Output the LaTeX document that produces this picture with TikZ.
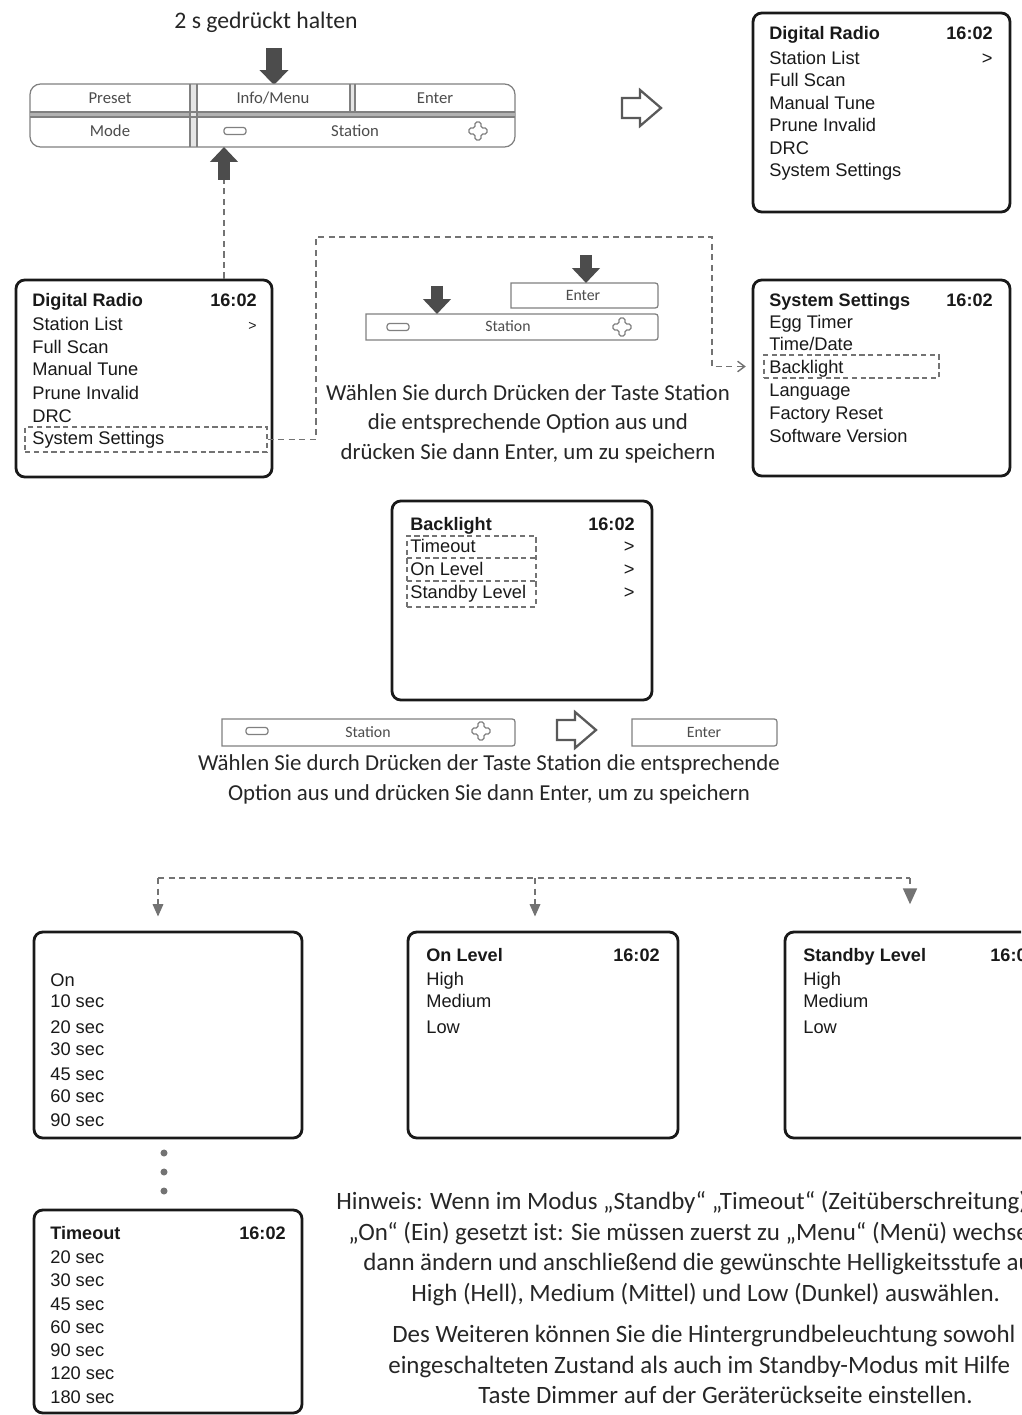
\documentclass[tikz,border=0pt]{standalone}
\usepackage{fontspec}
\setmainfont{Carlito}
\newfontfamily\menufont{Liberation Sans}
\usetikzlibrary{arrows.meta,fit}

\newcommand{\keyshape}[4]{\draw[key] (#1,#2) -- ({#3-6},#2) .. controls (#3,#2) .. (#3,{#2+6}) -- (#3,{#4-6}) .. controls (#3,#4) .. ({#3-6},#4) -- (#1,#4) -- cycle;}

\tikzset{
  screen/.style={draw=black!90, line width=1.6pt, rounded corners=5pt, inner sep=0pt},
  hl/.style={draw=black!55, line width=0.7pt, dash pattern=on 3pt off 2pt, inner sep=0pt},
  item/.style={anchor=base west, inner sep=0pt, text=black!90, font=\menufont\fontsize{10.4}{12}\selectfont},
  ttl/.style={item, font=\menufont\bfseries\fontsize{10.3}{12}\selectfont},
  clock/.style={ttl, anchor=base east},
  more/.style={item, anchor=base east},
  key/.style={draw=black!50, line width=0.7pt},
  keytext/.style={anchor=base, inner sep=0pt, text=black!70, font=\fontsize{9.5}{11}\selectfont},
  info/.style={anchor=base, inner sep=0pt, text=black!85, font=\fontsize{13}{15}\selectfont},
  note/.style={info, anchor=base west, font=\fontsize{14.2}{16}\selectfont},
  push/.style={draw=black!70, line width=6.8pt, -{Triangle[width=15.5pt,length=8.5pt]}},
  link/.style={draw=black!55, line width=0.8pt, dash pattern=on 3.5pt off 2.5pt},
  drop/.style={link, -{Triangle[width=6pt,length=7pt]}},
  minusicon/.pic={\draw[key, rounded corners=1.5pt] (-11,-3.5) rectangle (11,3.5);},
  plusicon/.pic={\draw[key, rounded corners=1pt] (-3,-9) -- (3,-9) -- (3,-3) -- (9,-3) -- (9,3) -- (3,3) -- (3,9) -- (-3,9) -- (-3,3) -- (-9,3) -- (-9,-3) -- (-3,-3) -- cycle;},
  nextarrow/.pic={\draw[draw=black!65, fill=white, line width=1.3pt, line join=miter] (-19,-10) -- (-1,-10) -- (-1,-18) -- (20,0) -- (-1,18) -- (-1,10) -- (-19,10) -- cycle;}
}

\begin{document}
\begin{tikzpicture}[x=0.02cm,y=-0.02cm]
\useasboundingbox (0,0) rectangle (1021,1415);
\clip (0,0) rectangle (1021,1415);

% front panel, hold Info/Menu
\node[info, font=\fontsize{13.5}{15}\selectfont] (hold) at (266,29) {2 s gedrückt halten};
\draw[push, line width=9.6pt, -{Triangle[width=16pt,length=8.5pt]}] (274,48) -- (274,85);
\draw[key, fill=white, rounded corners=6pt] (30,84) rectangle (515,147);
\fill[black!30] (31,112) rectangle (514,117);
\fill[black!10] (190,85) rectangle (197,146);
\fill[black!10] (350,85) rectangle (355,112);
\draw[key] (30,112) -- (515,112) (30,117) -- (515,117);
\draw[key] (190,84) -- (190,147) (197,84) -- (197,147);
\draw[key] (350,84) -- (350,112) (355,84) -- (355,112);
\node[keytext] (preset) at (110,104) {Preset};
\node[keytext] (menu) at (273,104) {Info/Menu};
\node[keytext] (enterA) at (435,104) {Enter};
\node[keytext] (mode) at (110,137) {Mode};
\node[keytext] (stationA) at (355,137) {Station};
\pic at (235,131) {minusicon};
\pic at (478,131) {plusicon};
\pic at (641,108) {nextarrow};

% main menu
\node[screen, fit={(753,13) (1010,212)}] (scrMain) {};
\node[ttl] (mA0) at (769,40) {Digital Radio};
\node[clock] (mAt) at (993,40) {16:02};
\node[item] (mA1) at (769,65) {Station List};
\node[more] (mAm) at (993,65) {>};
\node[item] (mA2) at (769,87) {Full Scan};
\node[item] (mA3) at (769,110) {Manual Tune};
\node[item] (mA4) at (769,132) {Prune Invalid};
\node[item] (mA5) at (769,155) {DRC};
\node[item] (mA6) at (769,177) {System Settings};

% main menu, select System Settings
\node[screen, fit={(16,280) (272,477)}] (scrDab) {};
\node[ttl] (mB0) at (32,307) {Digital Radio};
\node[clock] (mBt) at (257,307) {16:02};
\node[item] (mB1) at (32,331) {Station List};
\node[more, font=\menufont\fontsize{8}{10}\selectfont] (mBm) at (257,331) {>};
\node[item] (mB2) at (32,354) {Full Scan};
\node[item] (mB3) at (32,376) {Manual Tune};
\node[item] (mB4) at (32,399) {Prune Invalid};
\node[item] (mB5) at (32,422) {DRC};
\node[item] (mB6) at (32,444) {System Settings};
\node[hl, fit={(25,427) (267,452)}] (selSys) {};
\coordinate (upfoot) at (224,180);
\draw[push] (upfoot) -- (224,147);
\draw[link] (scrDab.north -| upfoot) -- (upfoot);

% Station and Enter
\keyshape{511}{283}{658}{308}
\node[keytext, font=\fontsize{9}{10}\selectfont] (enterB) at (583,301) {Enter};
\keyshape{366}{314}{658}{340}
\node[keytext, font=\fontsize{9}{10}\selectfont] (stationB) at (508,332) {Station};
\pic at (398,327) {minusicon};
\pic at (622,327) {plusicon};
\draw[push] (586,255) -- (586,283);
\draw[push] (437,286) -- (437,314);
\node[info] (pickA1) at (528,400) {Wählen Sie durch Drücken der Taste Station};
\node[info] (pickA2) at (528,429) {die entsprechende Option aus und};
\node[info] (pickA3) at (528,459) {drücken Sie dann Enter, um zu speichern};

% system settings
\node[screen, fit={(753,280) (1010,476)}] (scrSys) {};
\node[ttl] (mC0) at (769,307) {System Settings};
\node[clock] (mCt) at (993,307) {16:02};
\node[item] (mC1) at (769,329) {Egg Timer};
\node[item] (mC2) at (769,351) {Time/Date};
\node[item] (mC3) at (769,374) {Backlight};
\node[item] (mC4) at (769,397) {Language};
\node[item] (mC5) at (769,419) {Factory Reset};
\node[item] (mC6) at (769,442) {Software Version};
\node[hl, fit={(764,355) (939,378)}] (selBack) {};
\coordinate (r1) at (316,237);
\coordinate (r2) at (712,237);
\draw[link, -{Straight Barb[length=4pt,width=6pt]}, shorten >=10pt] (selSys.east) -| (r1) -- (r2) |- (selBack.west);

% backlight
\node[screen, fit={(392,501) (652,700)}] (scrBack) {};
\node[ttl] (mD0) at (410,530) {Backlight};
\node[clock] (mDt) at (635,530) {16:02};
\node[item] (mD1) at (410,552) {Timeout};
\node[item] (mD2) at (410,575) {On Level};
\node[item] (mD3) at (410,598) {Standby Level};
\node[more] (mD1m) at (635,552) {>};
\node[more] (mD2m) at (635,575) {>};
\node[more] (mD3m) at (635,598) {>};
\node[hl, fit={(407,536) (536,607)}] (selOpt) {};
\draw[hl] (407,558) -- (536,558) (407,581) -- (536,581);

\keyshape{222}{719}{515}{746}
\node[keytext, font=\fontsize{9}{10}\selectfont] (stationC) at (368,737) {Station};
\pic at (257,731) {minusicon};
\pic at (481,731) {plusicon};
\pic at (576,730) {nextarrow};
\keyshape{632}{719}{777}{746}
\node[keytext, font=\fontsize{9}{10}\selectfont] (enterC) at (704,737) {Enter};
\node[info] (pickB1) at (489,770) {Wählen Sie durch Drücken der Taste Station die entsprechende};
\node[info] (pickB2) at (489,800) {Option aus und drücken Sie dann Enter, um zu speichern};

% three sub menus
\node[screen, fit={(34,932) (302,1138)}] (scrTime) {};
\node[screen, fit={(408,932) (678,1138)}] (scrOn) {};
\node[screen, fit={(785,932) (1055,1138)}] (scrStby) {};
\coordinate (forkL) at (158,878);
\coordinate (forkM) at (535,878);
\coordinate (forkR) at (910,878);
\draw[link] (forkL) -- (forkR);
\draw[drop, shorten >=8pt] (forkL) -- (forkL |- scrTime.north);
\draw[drop, shorten >=8pt] (forkM) -- (forkM |- scrOn.north);
\draw[drop, shorten >=15pt, -{Triangle[width=8pt,length=9pt]}] (forkR) -- (forkR |- scrStby.north);

\node[item] (mE1) at (50,986) {On};
\node[item] (mE2) at (50,1007) {10 sec};
\node[item] (mE3) at (50,1033) {20 sec};
\node[item] (mE4) at (50,1055) {30 sec};
\node[item] (mE5) at (50,1080) {45 sec};
\node[item] (mE6) at (50,1102) {60 sec};
\node[item] (mE7) at (50,1126) {90 sec};

\node[ttl] (mF0) at (426,961) {On Level};
\node[clock] (mFt) at (660,961) {16:02};
\node[item] (mF1) at (426,985) {High};
\node[item] (mF2) at (426,1007) {Medium};
\node[item] (mF3) at (426,1033) {Low};

\node[ttl] (mG0) at (803,961) {Standby Level};
\node[clock] (mGt) at (1037,961) {16:02};
\node[item] (mG1) at (803,985) {High};
\node[item] (mG2) at (803,1007) {Medium};
\node[item] (mG3) at (803,1033) {Low};

% timeout list, scrolled
\fill[black!55] (164,1153) circle[radius=2pt] (164,1172) circle[radius=2pt] (164,1191) circle[radius=2pt];
\node[screen, fit={(34,1210) (302,1413)}] (scrScroll) {};
\node[ttl] (mH0) at (50,1239) {Timeout};
\node[clock] (mHt) at (286,1239) {16:02};
\node[item] (mH1) at (50,1263) {20 sec};
\node[item] (mH2) at (50,1286) {30 sec};
\node[item] (mH3) at (50,1310) {45 sec};
\node[item] (mH4) at (50,1333) {60 sec};
\node[item] (mH5) at (50,1356) {90 sec};
\node[item] (mH6) at (50,1379) {120 sec};
\node[item] (mH7) at (50,1403) {180 sec};

% note
\node[note] (hint1) at (336,1209) {Hinweis: Wenn im Modus „Standby“ „Timeout“ (Zeitüberschreitung)};
\node[note] (hint2) at (348,1240) {„On“ (Ein) gesetzt ist: Sie müssen zuerst zu „Menu“ (Menü) wechseln};
\node[note] (hint3) at (363,1270) {dann ändern und anschließend die gewünschte Helligkeitsstufe aus};
\node[note] (hint4) at (411,1301) {High (Hell), Medium (Mittel) und Low (Dunkel) auswählen.};
\node[note] (hint5) at (392,1342) {Des Weiteren können Sie die Hintergrundbeleuchtung sowohl};
\node[note] (hint6) at (388,1373) {eingeschalteten Zustand als auch im Standby-Modus mit Hilfe};
\node[note] (hint7) at (478,1403) {Taste Dimmer auf der Geräterückseite einstellen.};
\end{tikzpicture}
\end{document}
